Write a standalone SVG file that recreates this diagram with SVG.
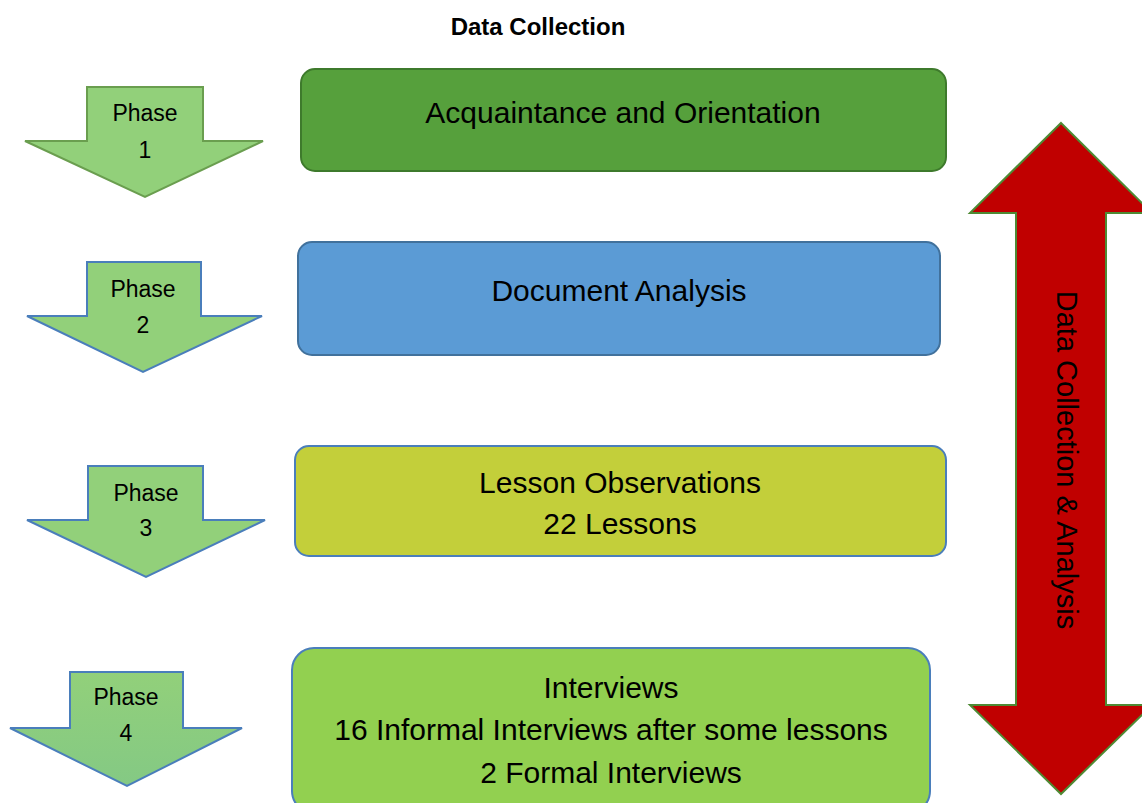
<svg xmlns="http://www.w3.org/2000/svg" width="1142" height="803" viewBox="0 0 1142 803">
<style>
text{font-family:"Liberation Sans",Arial,sans-serif;fill:#000;text-anchor:middle;dominant-baseline:central}
.ph{font-size:23px}
.bx{font-size:30px}
.phase{fill:#92D07A;stroke:#4A7EBB;stroke-width:2;stroke-linejoin:miter}
.box{stroke-width:2}
</style>
<defs>
<linearGradient id="g4" x1="0" y1="0" x2="0" y2="1">
<stop offset="0" stop-color="#92D07A"/>
<stop offset="1" stop-color="#84C984"/>
</linearGradient>
</defs>
<rect width="1142" height="803" fill="#fff"/>
<text x="538" y="26" style="font-size:24px;font-weight:bold">Data Collection</text>

<g id="connectors">
<path d="M1061,123 L1152,213 L1106,213 L1106,705 L1152,705 L1061,794 L970,705 L1016,705 L1016,213 L970,213 Z" fill="#C00000" stroke="#4E8A34" stroke-width="2"/>
<text x="1067" y="460" transform="rotate(90 1067 460)" style="font-size:29px">Data Collection &amp; Analysis</text>
</g>

<g id="phase1">
<path class="phase" d="M87,87 L203,87 L203,141 L263,141 L145,197 L25,141 L87,141 Z" style="stroke:#6A9E4F"/>
<text class="ph" x="145" y="113">Phase</text>
<text class="ph" x="145" y="150">1</text>
</g>
<g id="phase2">
<path class="phase" d="M87,262 L201,262 L201,316 L262,316 L143,372 L27,316 L87,316 Z"/>
<text class="ph" x="143" y="289">Phase</text>
<text class="ph" x="143" y="325">2</text>
</g>
<g id="phase3">
<path class="phase" d="M88,466 L203,466 L203,520 L265,520 L146,577 L27,520 L88,520 Z"/>
<text class="ph" x="146" y="493">Phase</text>
<text class="ph" x="146" y="528">3</text>
</g>
<g id="phase4">
<path class="phase" d="M70,672 L183,672 L183,728 L242,728 L127,786 L10,728 L70,728 Z" style="fill:url(#g4)"/>
<text class="ph" x="126" y="697">Phase</text>
<text class="ph" x="126" y="733">4</text>
</g>

<g id="box1">
<rect class="box" x="301" y="69" width="645" height="102" rx="14" fill="#56A03C" stroke="#3E7A2C"/>
<text class="bx" x="623" y="112">Acquaintance and Orientation</text>
</g>
<g id="box2">
<rect class="box" x="298" y="242" width="642" height="113" rx="14" fill="#5B9BD5" stroke="#41719C"/>
<text class="bx" x="619" y="290">Document Analysis</text>
</g>
<g id="box3">
<rect class="box" x="295" y="446" width="651" height="110" rx="14" fill="#C3CF3A" stroke="#4A7EBB"/>
<text class="bx" x="620" y="482">Lesson Observations</text>
<text class="bx" x="620" y="523">22 Lessons</text>
</g>
<g id="box4">
<rect class="box" x="292" y="648" width="638" height="165" rx="22" fill="#92D050" stroke="#4A7EBB"/>
<text class="bx" x="611" y="687">Interviews</text>
<text class="bx" x="611" y="729">16 Informal Interviews after some lessons</text>
<text class="bx" x="611" y="772">2 Formal Interviews</text>
</g>
</svg>
